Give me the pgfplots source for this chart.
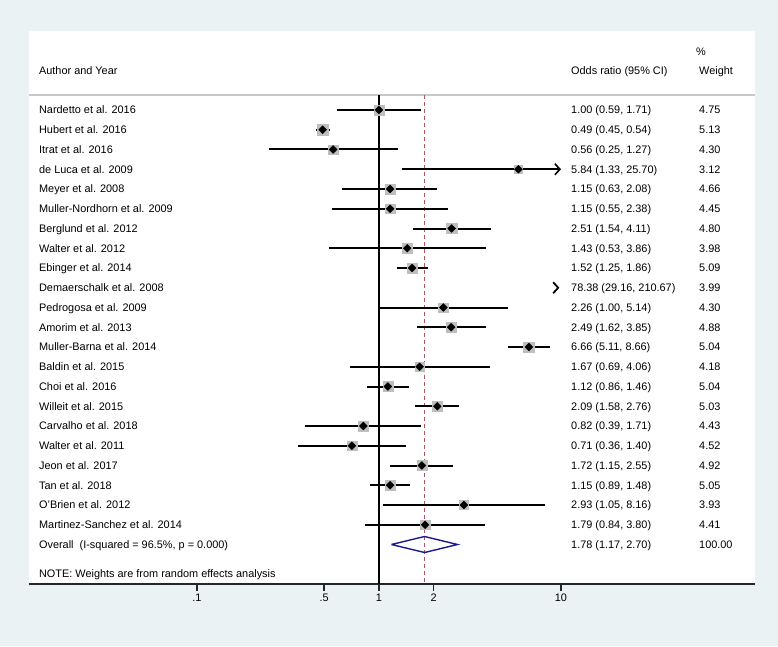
\documentclass[border=0pt]{standalone}
\usepackage{pgfplots}
\pgfplotsset{compat=1.18}
\usepackage{pgfplotstable}
\usepackage{fontspec}
\setmainfont{Liberation Sans}
\usetikzlibrary{arrows.meta}
\definecolor{bgcol}{RGB}{234,242,243}
\definecolor{sqgray}{RGB}{190,190,190}
\definecolor{refred}{RGB}{176,84,96}
\definecolor{navyd}{RGB}{26,26,140}
\definecolor{sepgray}{RGB}{200,200,200}
\newcommand{\tfont}{\fontsize{10.9}{13}\selectfont}

% pos = -row ; or = odds ratio ; w = weight (%)
% (Demaerschalk et al. 2008, 78.38 (29.16, 210.67), w 3.99, lies beyond the axis: only an arrow is drawn)
\pgfplotstableread{
pos or w
-1 1.00 4.75
-2 0.49 5.13
-3 0.56 4.30
-4 5.84 3.12
-5 1.15 4.66
-6 1.15 4.45
-7 2.51 4.80
-8 1.43 3.98
-9 1.52 5.09
-11 2.26 4.30
-12 2.49 4.88
-13 6.66 5.04
-14 1.67 4.18
-15 1.12 5.04
-16 2.09 5.03
-17 0.82 4.43
-18 0.71 4.52
-19 1.72 4.92
-20 1.15 5.05
-21 2.93 3.93
-22 1.79 4.41
}\markers

\newcommand{\ci}[3]{\addplot[black, line width=2pt] coordinates {(#1,#3) (#2,#3)};}
\newcommand{\tk}[1]{\addplot[black!85, line width=1.4pt] coordinates {(#1,-25) (#1,-25.36)};}
\newcommand{\rowtext}[4]{%
  \node[anchor=base west, yshift=-3.9pt, font=\tfont, inner sep=0pt] at (axis cs:0.01354,#1) {#2};
  \node[anchor=base west, yshift=-3.9pt, font=\tfont, inner sep=0pt] at (axis cs:11.35,#1) {#3};
  \node[anchor=base west, yshift=-3.9pt, font=\tfont, inner sep=0pt] at (axis cs:57.32,#1) {#4};}

\begin{document}
\begin{tikzpicture}
\fill[bgcol] (0,0) rectangle (778pt,646pt);
\begin{axis}[
  at={(29.5pt,62pt)}, anchor=south west,
  scale only axis, width=725.5pt, height=553pt,
  xmode=log, xmin=0.012017, xmax=116.4, ymin=-25, ymax=3,
  axis background/.style={fill=white},
  axis line style={draw=none},
  clip=false,
  xtick={0.1,0.5,1,2,10},
  xticklabels={\textrm{.1},\textrm{.5},\textrm{1},\textrm{2},\textrm{10}},
  xtick align=outside, xtick pos=bottom,
  ytick=\empty,
  major tick length=0pt,
  xticklabel style={font=\tfont, yshift=-6pt},
]
% header separator, axis line, ticks and reference lines
\addplot[sepgray, line width=1.5pt] coordinates {(0.012017,-0.24) (116.4,-0.24)};
\addplot[black!85, line width=1.5pt] coordinates {(0.012017,-25) (116.4,-25)};
\tk{0.1}
\tk{0.5}
\tk{1}
\tk{2}
\tk{10}
\addplot[black, line width=1.2pt] coordinates {(1,-0.24) (1,-25)};
\addplot[refred, line width=1.2pt, dash pattern=on 4pt off 3pt] coordinates {(1.78,-0.24) (1.78,-25)};

% weight squares (side proportional to sqrt of weight)
\addplot[scatter, only marks, mark=square*,
  scatter/use mapped color={draw=sqgray, fill=sqgray},
  visualization depends on={2.3*sqrt(\thisrow{w}) \as \sqs},
  scatter/@pre marker code/.append style={/tikz/mark size=\sqs}]
  table[x=or, y=pos] {\markers};

% confidence intervals
\ci{0.59}{1.71}{-1}
\ci{0.45}{0.54}{-2}
\ci{0.25}{1.27}{-3}
\addplot[black, line width=2pt, -{Straight Barb[length=5pt, width=11pt, line width=1.6pt]}] coordinates {(1.33,-4) (10,-4)};
\ci{0.63}{2.08}{-5}
\ci{0.55}{2.38}{-6}
\ci{1.54}{4.11}{-7}
\ci{0.53}{3.86}{-8}
\ci{1.25}{1.86}{-9}
\addplot[black, line width=0.6pt, -{Straight Barb[length=5pt, width=11pt, line width=1.8pt]}] coordinates {(9.70,-10) (9.80,-10)};
\ci{1.00}{5.14}{-11}
\ci{1.62}{3.85}{-12}
\ci{5.11}{8.66}{-13}
\ci{0.69}{4.06}{-14}
\ci{0.86}{1.46}{-15}
\ci{1.58}{2.76}{-16}
\ci{0.39}{1.71}{-17}
\ci{0.36}{1.40}{-18}
\ci{1.15}{2.55}{-19}
\ci{0.89}{1.48}{-20}
\ci{1.05}{8.16}{-21}
\ci{0.84}{3.80}{-22}

% point estimates
\addplot[only marks, mark=square*, mark size=2.8pt, mark options={fill=black, draw=black, rotate=45}] table[x=or, y=pos] {\markers};

% overall diamond
\addplot[navyd, line width=1.4pt, line join=miter] coordinates {(1.17,-23) (1.78,-22.595) (2.70,-23) (1.78,-23.405) (1.17,-23)};

% header
\node[anchor=base west, yshift=-3.9pt, font=\tfont, inner sep=0pt] at (axis cs:0.01354,1.02) {Author and Year};
\node[anchor=base west, yshift=-3.9pt, font=\tfont, inner sep=0pt] at (axis cs:11.35,1.02) {Odds ratio (95\% CI)};
\node[anchor=base west, yshift=-3.9pt, font=\tfont, inner sep=0pt] at (axis cs:57.32,1.02) {Weight};
\node[anchor=base west, yshift=-3.9pt, font=\tfont, inner sep=0pt] at (axis cs:55.18,1.94) {\%};

\rowtext{-1}{Nardetto et al. 2016}{1.00 (0.59, 1.71)}{4.75}
\rowtext{-2}{Hubert et al. 2016}{0.49 (0.45, 0.54)}{5.13}
\rowtext{-3}{Itrat et al. 2016}{0.56 (0.25, 1.27)}{4.30}
\rowtext{-4}{de Luca et al. 2009}{5.84 (1.33, 25.70)}{3.12}
\rowtext{-5}{Meyer et al. 2008}{1.15 (0.63, 2.08)}{4.66}
\rowtext{-6}{Muller-Nordhorn et al. 2009}{1.15 (0.55, 2.38)}{4.45}
\rowtext{-7}{Berglund et al. 2012}{2.51 (1.54, 4.11)}{4.80}
\rowtext{-8}{Walter et al. 2012}{1.43 (0.53, 3.86)}{3.98}
\rowtext{-9}{Ebinger et al. 2014}{1.52 (1.25, 1.86)}{5.09}
\rowtext{-10}{Demaerschalk et al. 2008}{78.38 (29.16, 210.67)}{3.99}
\rowtext{-11}{Pedrogosa et al. 2009}{2.26 (1.00, 5.14)}{4.30}
\rowtext{-12}{Amorim et al. 2013}{2.49 (1.62, 3.85)}{4.88}
\rowtext{-13}{Muller-Barna et al. 2014}{6.66 (5.11, 8.66)}{5.04}
\rowtext{-14}{Baldin et al. 2015}{1.67 (0.69, 4.06)}{4.18}
\rowtext{-15}{Choi et al. 2016}{1.12 (0.86, 1.46)}{5.04}
\rowtext{-16}{Willeit et al. 2015}{2.09 (1.58, 2.76)}{5.03}
\rowtext{-17}{Carvalho et al. 2018}{0.82 (0.39, 1.71)}{4.43}
\rowtext{-18}{Walter et al. 2011}{0.71 (0.36, 1.40)}{4.52}
\rowtext{-19}{Jeon et al. 2017}{1.72 (1.15, 2.55)}{4.92}
\rowtext{-20}{Tan et al. 2018}{1.15 (0.89, 1.48)}{5.05}
\rowtext{-21}{O'Brien et al. 2012}{2.93 (1.05, 8.16)}{3.93}
\rowtext{-22}{Martinez-Sanchez et al. 2014}{1.79 (0.84, 3.80)}{4.41}
\rowtext{-23}{Overall\hspace{0.55em}(I-squared = 96.5\%, p = 0.000)}{1.78 (1.17, 2.70)}{100.00}
\node[anchor=base west, yshift=-3.9pt, font=\tfont, inner sep=0pt] at (axis cs:0.01354,-24.48) {NOTE: Weights are from random effects analysis};
\end{axis}
\end{tikzpicture}
\end{document}
